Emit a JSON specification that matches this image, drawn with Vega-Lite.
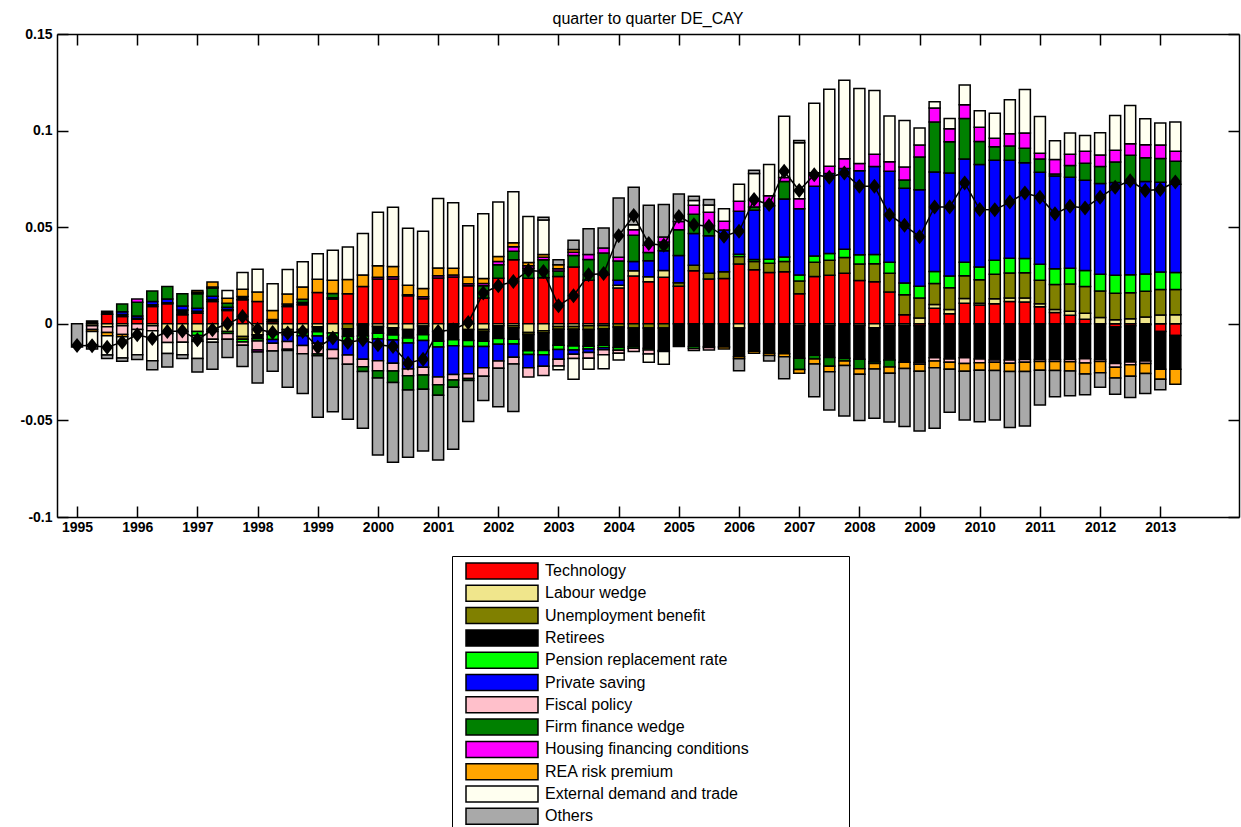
{
  "$schema": "https://vega.github.io/schema/vega-lite/v6.json",
  "autosize": {"type": "none"},
  "width": 1182,
  "height": 483,
  "padding": {"left": 57, "top": 34, "right": 2, "bottom": 310},
  "background": "white",
  "title": {"text": "quarter to quarter DE_CAY", "fontSize": 16, "fontWeight": "normal", "font": "Liberation Sans", "color": "black", "offset": 0},
  "config": {"view": {"stroke": null}, "font": "Liberation Sans"},
  "datasets": {
    "series": [
      {"k": "tech", "name": "Technology", "ord": 1},
      {"k": "labour", "name": "Labour wedge", "ord": 2},
      {"k": "unemp", "name": "Unemployment benefit", "ord": 3},
      {"k": "retirees", "name": "Retirees", "ord": 4},
      {"k": "pension", "name": "Pension replacement rate", "ord": 5},
      {"k": "saving", "name": "Private saving", "ord": 6},
      {"k": "fiscal", "name": "Fiscal policy", "ord": 7},
      {"k": "firm", "name": "Firm finance wedge", "ord": 8},
      {"k": "housing", "name": "Housing financing conditions", "ord": 9},
      {"k": "rea", "name": "REA risk premium", "ord": 10},
      {"k": "external", "name": "External demand and trade", "ord": 11},
      {"k": "others", "name": "Others", "ord": 12}
    ],
    "contrib": [
      {"q":0,"others":-0.012},
      {"q":1,"labour":-0.001,"retirees":0.0015,"fiscal":-0.002,"rea":-0.001,"external":-0.007,"others":-0.002},
      {"q":2,"tech":0.005,"labour":-0.0015,"retirees":0.0015,"fiscal":-0.003,"rea":-0.0017,"external":-0.010,"others":-0.0017},
      {"q":3,"tech":0.0038,"labour":-0.001,"retirees":0.001,"saving":0.0015,"fiscal":-0.0045,"firm":0.004,"rea":-0.0012,"external":-0.011,"others":-0.0017},
      {"q":4,"tech":0.0024,"retirees":0.0005,"saving":0.0012,"fiscal":-0.003,"firm":0.007,"housing":0.0017,"external":-0.013,"others":-0.0025},
      {"q":5,"tech":0.009,"labour":-0.001,"retirees":0.0008,"saving":0.0017,"fiscal":-0.0026,"firm":0.0055,"external":-0.0155,"others":-0.0047},
      {"q":6,"tech":0.0104,"labour":-0.005,"retirees":0.0005,"saving":0.002,"fiscal":-0.0047,"firm":0.0064,"external":-0.0057,"others":-0.007},
      {"q":7,"tech":0.0047,"labour":-0.004,"retirees":0.0025,"saving":0.002,"fiscal":-0.0055,"firm":0.0064,"external":-0.0065,"others":-0.002},
      {"q":8,"tech":0.0055,"labour":-0.004,"retirees":0.001,"pension":-0.002,"saving":0.0015,"fiscal":-0.003,"firm":0.0075,"housing":0.0008,"rea":0.001,"external":-0.009,"others":-0.007},
      {"q":9,"tech":0.0116,"labour":-0.003,"retirees":0.001,"pension":-0.001,"saving":0.0016,"fiscal":-0.004,"firm":0.0043,"housing":0.0005,"rea":0.0026,"external":-0.0015,"others":-0.014},
      {"q":10,"tech":0.0069,"labour":-0.004,"retirees":0.0005,"pension":-0.001,"saving":0.0012,"fiscal":-0.003,"firm":0.002,"rea":0.0026,"external":0.004,"others":-0.0095},
      {"q":11,"tech":0.0124,"labour":-0.0066,"unemp":-0.0014,"retirees":0.0017,"pension":-0.0014,"fiscal":-0.0017,"rea":0.0038,"external":0.0086,"others":-0.011},
      {"q":12,"tech":0.0116,"labour":-0.0057,"retirees":-0.002,"pension":-0.0012,"fiscal":-0.0047,"housing":-0.001,"rea":0.0048,"external":0.0118,"others":-0.016},
      {"q":13,"tech":0.001,"labour":-0.0045,"unemp":-0.001,"retirees":0.0012,"pension":-0.0026,"saving":-0.002,"fiscal":-0.004,"rea":0.0047,"external":0.0138,"others":-0.0105},
      {"q":14,"tech":0.009,"labour":-0.003,"unemp":-0.001,"retirees":0.0012,"pension":-0.0017,"saving":-0.0035,"fiscal":-0.004,"housing":-0.0006,"rea":0.0052,"external":0.0127,"others":-0.019},
      {"q":15,"tech":0.0098,"labour":-0.003,"unemp":-0.001,"retirees":0.0012,"pension":-0.0022,"saving":-0.005,"fiscal":-0.0043,"firm":0.0017,"rea":0.0064,"external":0.013,"others":-0.0206},
      {"q":16,"tech":0.0162,"labour":-0.0015,"retirees":-0.0026,"pension":-0.0022,"saving":-0.0038,"fiscal":-0.0055,"firm":-0.001,"rea":0.0069,"external":0.0132,"others":-0.0318},
      {"q":17,"tech":0.0128,"labour":-0.0048,"retirees":0.0007,"pension":-0.0025,"saving":-0.006,"fiscal":-0.0047,"firm":0.0022,"rea":0.0069,"external":0.0155,"others":-0.0275},
      {"q":18,"tech":0.0156,"unemp":-0.0026,"retirees":-0.004,"pension":-0.0022,"saving":-0.0074,"fiscal":-0.0047,"rea":0.0073,"external":0.0168,"others":-0.0285},
      {"q":19,"tech":0.0193,"labour":-0.0006,"retirees":-0.0057,"pension":-0.0017,"saving":-0.0104,"fiscal":-0.0038,"firm":-0.0025,"rea":0.006,"external":0.0214,"others":-0.0294},
      {"q":20,"tech":0.0232,"labour":-0.0014,"retirees":-0.0035,"pension":-0.003,"saving":-0.0112,"fiscal":-0.0052,"firm":-0.0038,"housing":0.0009,"rea":0.006,"external":0.0276,"others":-0.0398},
      {"q":21,"tech":0.0232,"labour":-0.002,"retirees":-0.0038,"pension":-0.0026,"saving":-0.012,"fiscal":-0.004,"firm":-0.006,"housing":0.0011,"rea":0.0054,"external":0.0306,"others":-0.0413},
      {"q":22,"tech":0.0145,"labour":-0.003,"retirees":-0.0043,"pension":-0.0026,"saving":-0.0135,"fiscal":-0.0035,"firm":-0.0074,"housing":0.0006,"rea":0.0048,"external":0.0295,"others":-0.0348},
      {"q":23,"tech":0.013,"labour":-0.0012,"retirees":-0.0045,"pension":-0.003,"saving":-0.0138,"fiscal":-0.004,"firm":-0.0074,"housing":0.001,"rea":0.0043,"external":0.0296,"others":-0.0319},
      {"q":24,"tech":0.0237,"labour":-0.004,"retirees":-0.005,"pension":-0.003,"saving":-0.0155,"fiscal":-0.004,"firm":-0.0055,"housing":0.0012,"rea":0.004,"external":0.0359,"others":-0.0335},
      {"q":25,"tech":0.0242,"retirees":-0.0083,"pension":-0.003,"saving":-0.015,"fiscal":-0.0028,"firm":-0.0038,"housing":0.001,"rea":0.0035,"external":0.0339,"others":-0.032},
      {"q":26,"tech":0.0197,"labour":-0.003,"retirees":-0.0057,"pension":-0.003,"saving":-0.0142,"fiscal":-0.0024,"firm":-0.001,"housing":0.001,"rea":0.0035,"external":0.0266,"others":-0.0213},
      {"q":27,"tech":0.0133,"labour":-0.003,"unemp":-0.001,"retirees":-0.005,"pension":-0.0028,"saving":-0.011,"fiscal":-0.0043,"firm":0.0064,"housing":0.0012,"rea":0.0026,"external":0.0334,"others":-0.0126},
      {"q":28,"tech":0.0236,"labour":-0.001,"retirees":-0.0066,"pension":-0.003,"saving":-0.0086,"fiscal":-0.0038,"firm":0.007,"housing":0.0016,"rea":0.0026,"external":0.0283,"others":-0.0199},
      {"q":29,"tech":0.0332,"labour":-0.001,"unemp":-0.001,"retirees":-0.006,"pension":-0.0024,"saving":-0.0069,"fiscal":-0.0035,"firm":0.0043,"housing":0.0024,"rea":0.002,"external":0.0264,"others":-0.0246},
      {"q":30,"tech":0.0236,"labour":-0.0045,"unemp":-0.001,"retirees":-0.0084,"pension":-0.002,"saving":-0.0069,"fiscal":-0.0048,"firm":0.0052,"housing":0.0012,"rea":0.0017,"external":0.0239},
      {"q":31,"tech":0.0239,"labour":-0.0036,"unemp":-0.001,"retirees":-0.0092,"pension":-0.0022,"saving":-0.006,"fiscal":-0.0048,"firm":0.0092,"housing":0.0014,"rea":0.0014,"external":0.0178,"others":0.0014},
      {"q":32,"tech":0.0245,"labour":-0.0014,"unemp":-0.0014,"retirees":-0.0083,"pension":-0.0022,"saving":-0.005,"fiscal":-0.0035,"firm":0.0028,"housing":0.0012,"rea":0.0021,"external":-0.002,"others":0.0026},
      {"q":33,"tech":0.0294,"labour":-0.0014,"unemp":-0.0014,"retirees":-0.0087,"pension":-0.002,"saving":-0.0022,"fiscal":-0.0022,"firm":0.0059,"housing":0.0017,"rea":0.0014,"external":-0.0108,"others":0.0048},
      {"q":34,"tech":0.0226,"labour":-0.001,"unemp":-0.002,"retirees":-0.0086,"pension":-0.0014,"saving":-0.0018,"fiscal":-0.003,"firm":0.0107,"housing":0.0026,"external":-0.0057,"others":0.0133},
      {"q":35,"tech":0.0254,"labour":-0.0009,"unemp":-0.0017,"retirees":-0.0086,"pension":-0.0012,"saving":-0.001,"fiscal":-0.0026,"firm":0.0112,"housing":0.0026,"external":-0.0073,"others":0.0104},
      {"q":36,"tech":0.0185,"labour":0.0014,"unemp":-0.0017,"retirees":-0.0106,"pension":-0.0014,"saving":0.0026,"fiscal":-0.0015,"firm":0.01,"housing":0.002,"external":-0.0035,"others":0.0306},
      {"q":37,"tech":0.0247,"labour":0.0028,"unemp":-0.0022,"retirees":-0.0095,"pension":-0.001,"saving":0.0048,"fiscal":-0.0016,"firm":0.0135,"housing":0.0029,"external":0.0026,"others":0.0194},
      {"q":38,"tech":0.0218,"labour":0.0026,"unemp":-0.0022,"retirees":-0.0104,"pension":-0.001,"saving":0.0082,"fiscal":-0.002,"firm":0.0043,"housing":0.0038,"external":-0.0043,"others":0.0206},
      {"q":39,"tech":0.0241,"labour":0.0035,"unemp":-0.0022,"retirees":-0.0116,"pension":-0.0005,"saving":0.0102,"firm":0.0045,"housing":0.0026,"external":-0.0066,"others":0.0168},
      {"q":40,"tech":0.0195,"unemp":0.0017,"retirees":-0.0118,"saving":0.0142,"firm":0.0133,"housing":0.0043,"others":0.0142},
      {"q":41,"tech":0.0275,"unemp":0.0028,"retirees":-0.0118,"pension":-0.001,"saving":0.0165,"fiscal":-0.001,"firm":0.0099,"housing":0.0047,"external":0.0024,"others":0.0022},
      {"q":42,"tech":0.0232,"unemp":0.003,"retirees":-0.0118,"pension":-0.0005,"saving":0.0194,"fiscal":-0.0012,"firm":0.0052,"housing":0.0069,"external":0.0038,"others":0.0028},
      {"q":43,"tech":0.0235,"unemp":0.0035,"retirees":-0.012,"saving":0.0215,"housing":0.0046,"rea":-0.0011,"external":0.0065},
      {"q":44,"tech":0.031,"labour":-0.0022,"unemp":0.0038,"retirees":-0.0149,"pension":0.0012,"saving":0.0222,"housing":0.0052,"rea":-0.001,"external":0.0088,"others":-0.0062},
      {"q":45,"tech":0.028,"unemp":0.0043,"retirees":-0.0142,"pension":0.001,"saving":0.0255,"firm":0.0017,"housing":0.0035,"rea":-0.001,"external":0.0138,"others":0.0017},
      {"q":46,"tech":0.0266,"unemp":0.0047,"retirees":-0.0152,"pension":0.0021,"saving":0.0277,"housing":0.0052,"rea":-0.0012,"external":0.0161,"others":-0.0028},
      {"q":47,"tech":0.027,"unemp":0.0052,"retirees":-0.0155,"pension":0.0024,"saving":0.03,"firm":0.009,"housing":0.0021,"rea":-0.0016,"external":0.0317,"others":-0.0114},
      {"q":48,"tech":0.0155,"labour":-0.0009,"unemp":0.0066,"retirees":-0.0169,"pension":0.0031,"saving":0.0343,"firm":-0.0059,"housing":0.0052,"rea":-0.0019,"external":0.029,"others":0.0012},
      {"q":49,"tech":0.0245,"unemp":0.0073,"retirees":-0.0163,"pension":0.0033,"saving":0.0361,"firm":-0.0019,"housing":0.007,"rea":-0.0026,"external":0.036,"others":-0.0169},
      {"q":50,"tech":0.0251,"labour":-0.0009,"unemp":0.0078,"retirees":-0.0166,"pension":0.0035,"saving":0.0414,"firm":-0.0045,"housing":0.0038,"rea":-0.0028,"external":0.0398,"others":-0.0198},
      {"q":51,"tech":0.0262,"unemp":0.0081,"retirees":-0.0178,"pension":0.0043,"saving":0.0418,"firm":-0.0014,"housing":0.005,"rea":-0.0024,"external":0.0406,"others":-0.0261},
      {"q":52,"tech":0.0224,"labour":-0.0009,"unemp":0.0086,"retirees":-0.0175,"pension":0.0047,"saving":0.0435,"firm":-0.0049,"housing":0.0038,"rea":-0.0028,"external":0.0388,"others":-0.024},
      {"q":53,"tech":0.0218,"labour":-0.0021,"unemp":0.0093,"retirees":-0.0175,"pension":0.0048,"saving":0.0455,"firm":-0.001,"housing":0.0064,"rea":-0.0028,"external":0.033,"others":-0.0255},
      {"q":54,"tech":0.0164,"labour":-0.0009,"unemp":0.0098,"retirees":-0.0178,"pension":0.0057,"saving":0.047,"firm":-0.0036,"housing":0.005,"rea":-0.0033,"external":0.0236,"others":-0.0252},
      {"q":55,"tech":0.0047,"labour":-0.0009,"unemp":0.0104,"retirees":-0.019,"pension":0.006,"saving":0.049,"firm":0.0043,"housing":0.0067,"rea":-0.0033,"external":0.0241,"others":-0.03},
      {"q":56,"tech":-0.001,"labour":0.003,"unemp":0.0104,"retirees":-0.019,"pension":0.006,"saving":0.05,"fiscal":-0.001,"firm":0.017,"housing":0.0061,"rea":-0.0035,"external":0.0089,"others":-0.031},
      {"q":57,"tech":0.008,"labour":0.002,"unemp":0.0109,"retirees":-0.0176,"pension":0.0062,"saving":0.0515,"fiscal":-0.0016,"firm":0.0258,"housing":0.0073,"rea":-0.0036,"external":0.0032,"others":-0.0313},
      {"q":58,"tech":0.0052,"labour":0.0022,"unemp":0.0112,"retirees":-0.0182,"pension":0.0062,"saving":0.0532,"fiscal":-0.0017,"firm":0.0162,"housing":0.0067,"rea":-0.0036,"external":0.0054,"others":-0.0223},
      {"q":59,"tech":0.0107,"labour":0.0024,"unemp":0.0118,"retirees":-0.0176,"pension":0.0069,"saving":0.0535,"fiscal":-0.0029,"firm":0.021,"housing":0.0071,"rea":-0.0041,"external":0.0102,"others":-0.0252},
      {"q":60,"tech":0.0097,"labour":0.001,"unemp":0.0121,"retirees":-0.0182,"pension":0.0066,"saving":0.053,"fiscal":-0.0019,"firm":0.012,"housing":0.0073,"rea":-0.004,"external":0.0086,"others":-0.0266},
      {"q":61,"tech":0.0104,"labour":0.0026,"unemp":0.0126,"retirees":-0.0187,"pension":0.0073,"saving":0.0517,"fiscal":-0.0012,"firm":0.0071,"housing":0.0043,"rea":-0.0043,"external":0.013,"others":-0.0256},
      {"q":62,"tech":0.0116,"labour":0.0017,"unemp":0.013,"retirees":-0.0187,"pension":0.0076,"saving":0.0508,"fiscal":-0.0017,"firm":0.0073,"housing":0.0064,"rea":-0.0043,"external":0.0176,"others":-0.029},
      {"q":63,"tech":0.0113,"labour":0.0021,"unemp":0.013,"retirees":-0.0185,"pension":0.0074,"saving":0.0495,"fiscal":-0.0014,"firm":0.0076,"housing":0.0079,"rea":-0.0048,"external":0.0225,"others":-0.0282},
      {"q":64,"tech":0.0088,"labour":0.0016,"unemp":0.0121,"retirees":-0.0185,"pension":0.0083,"saving":0.0477,"fiscal":-0.001,"firm":0.0068,"housing":0.003,"rea":-0.0045,"external":0.019,"others":-0.018},
      {"q":65,"tech":0.0058,"labour":0.0016,"unemp":0.013,"retirees":-0.0185,"pension":0.0081,"saving":0.048,"fiscal":-0.001,"firm":0.001,"housing":0.0075,"rea":-0.0047,"external":0.0098,"others":-0.0135},
      {"q":66,"tech":0.0044,"labour":0.0021,"unemp":0.0141,"retirees":-0.0185,"pension":0.0081,"saving":0.0472,"fiscal":-0.0012,"firm":0.006,"housing":0.0058,"rea":-0.0047,"external":0.011,"others":-0.0129},
      {"q":67,"tech":0.0024,"labour":0.0031,"unemp":0.0138,"retirees":-0.0181,"pension":0.0083,"saving":0.0467,"fiscal":-0.0022,"firm":0.0088,"housing":0.0062,"rea":-0.0057,"external":0.0082,"others":-0.0107},
      {"q":68,"labour":0.0032,"unemp":0.0138,"retirees":-0.0185,"pension":0.0086,"saving":0.047,"fiscal":-0.001,"firm":0.0088,"housing":0.006,"rea":-0.0058,"external":0.0115,"others":-0.0075},
      {"q":69,"tech":-0.0017,"labour":0.0021,"unemp":0.0137,"retirees":-0.0188,"pension":0.0093,"saving":0.048,"fiscal":-0.002,"firm":0.0107,"housing":0.006,"rea":-0.0055,"external":0.018,"others":-0.0085},
      {"q":70,"tech":-0.001,"labour":0.0026,"unemp":0.0135,"retirees":-0.0188,"pension":0.0093,"saving":0.0473,"fiscal":-0.0014,"firm":0.0145,"housing":0.006,"rea":-0.006,"external":0.0198,"others":-0.011},
      {"q":71,"tech":-0.0005,"labour":0.0035,"unemp":0.0133,"retirees":-0.0188,"pension":0.009,"saving":0.0478,"fiscal":-0.0012,"firm":0.0123,"housing":0.0068,"rea":-0.0052,"external":0.0134,"others":-0.0104},
      {"q":72,"tech":-0.004,"labour":0.0046,"unemp":0.0132,"retirees":-0.0195,"pension":0.009,"saving":0.0465,"firm":0.0122,"housing":0.0071,"rea":-0.0052,"external":0.0113,"others":-0.0055},
      {"q":73,"tech":-0.006,"labour":0.0047,"unemp":0.013,"retirees":-0.0175,"pension":0.0089,"saving":0.0456,"firm":0.0119,"housing":0.0052,"rea":-0.0078,"external":0.0152}
    ],
    "total": [
      {"q":0,"t":-0.0112},{"q":1,"t":-0.0114},{"q":2,"t":-0.0121},{"q":3,"t":-0.0095},{"q":4,"t":-0.0057},
      {"q":5,"t":-0.0076},{"q":6,"t":-0.004},{"q":7,"t":-0.0037},{"q":8,"t":-0.0083},{"q":9,"t":-0.0031},
      {"q":10,"t":0.0},{"q":11,"t":0.0038},{"q":12,"t":-0.0028},{"q":13,"t":-0.0045},{"q":14,"t":-0.0048},
      {"q":15,"t":-0.004},{"q":16,"t":-0.0121},{"q":17,"t":-0.0074},{"q":18,"t":-0.0097},{"q":19,"t":-0.0083},
      {"q":20,"t":-0.0109},{"q":21,"t":-0.0117},{"q":22,"t":-0.0204},{"q":23,"t":-0.0183},{"q":24,"t":-0.004},
      {"q":25,"t":-0.0031},{"q":26,"t":0.0007},{"q":27,"t":0.0159},{"q":28,"t":0.0197},{"q":29,"t":0.0219},
      {"q":30,"t":0.0276},{"q":31,"t":0.0271},{"q":32,"t":0.0093},{"q":33,"t":0.0145},{"q":34,"t":0.0254},
      {"q":35,"t":0.026},{"q":36,"t":0.0456},{"q":37,"t":0.056},{"q":38,"t":0.0415},{"q":39,"t":0.0406},
      {"q":40,"t":0.0556},{"q":41,"t":0.0513},{"q":42,"t":0.0505},{"q":43,"t":0.0453},{"q":44,"t":0.0479},
      {"q":45,"t":0.0643},{"q":46,"t":0.0617},{"q":47,"t":0.079},{"q":48,"t":0.069},{"q":49,"t":0.0772},
      {"q":50,"t":0.0759},{"q":51,"t":0.0781},{"q":52,"t":0.0712},{"q":53,"t":0.0712},{"q":54,"t":0.0565},
      {"q":55,"t":0.051},{"q":56,"t":0.045},{"q":57,"t":0.0605},{"q":58,"t":0.0605},{"q":59,"t":0.0729},
      {"q":60,"t":0.0591},{"q":61,"t":0.059},{"q":62,"t":0.063},{"q":63,"t":0.0677},{"q":64,"t":0.0655},
      {"q":65,"t":0.0569},{"q":66,"t":0.0608},{"q":67,"t":0.06},{"q":68,"t":0.0655},{"q":69,"t":0.0707},
      {"q":70,"t":0.0741},{"q":71,"t":0.069},{"q":72,"t":0.0695},{"q":73,"t":0.0734}
    ]
  },
  "layer": [
    {
      "data": {"name": "contrib"},
      "transform": [
        {"fold": ["tech","labour","unemp","retirees","pension","saving","fiscal","firm","housing","rea","external","others"], "as": ["k","v"]},
        {"filter": "isValid(datum.v) && datum.v != 0"},
        {"lookup": "k", "from": {"data": {"name": "series"}, "key": "k", "fields": ["name","ord"]}}
      ],
      "mark": {"type": "bar", "size": 11, "stroke": "black", "strokeWidth": 1.5},
      "encoding": {
        "x": {"field": "q", "type": "quantitative", "scale": {"domain": [-1, 76.9], "nice": false, "zero": false},
          "axis": {"orient": "bottom", "values": [0,4,8,12,16,20,24,28,32,36,40,44,48,52,56,60,64,68,72],
            "labelExpr": "'' + (1995 + datum.value / 4)", "title": null, "grid": false,
            "tickSize": -11, "tickWidth": 1.5, "tickColor": "black", "labelPadding": 14,
            "domainColor": "black", "domainWidth": 1.5, "labelFont": "Liberation Sans", "labelFontSize": 14,
            "labelFontWeight": "bold", "labelColor": "black", "labelOverlap": false, "labelFlush": false}},
        "y": {"field": "v", "type": "quantitative", "stack": "zero", "scale": {"domain": [-0.1, 0.15], "nice": false, "zero": false},
          "axis": {"orient": "left", "values": [-0.1,-0.05,0,0.05,0.1,0.15],
            "labelExpr": "datum.value == 0 ? '0' : (datum.value < 0 ? '-' : '') + format(abs(datum.value), '~g')",
            "title": null, "grid": false, "tickSize": -11, "tickWidth": 1.5, "tickColor": "black", "labelPadding": 16,
            "domainColor": "black", "domainWidth": 1.5, "labelFont": "Liberation Sans", "labelFontSize": 14,
            "labelFontWeight": "bold", "labelColor": "black", "labelOverlap": false, "labelFlush": false}},
        "color": {"field": "name", "type": "nominal",
          "scale": {"domain": ["Technology","Labour wedge","Unemployment benefit","Retirees","Pension replacement rate","Private saving","Fiscal policy","Firm finance wedge","Housing financing conditions","REA risk premium","External demand and trade","Others"],
                    "range": ["#ff0000","#f0e68c","#808000","#000000","#00ff00","#0000ff","#ffc0cb","#008000","#ff00ff","#ffa500","#fffff0","#a9a9a9"]},
          "legend": {"orient": "none", "legendX": 395, "legendY": 522, "title": null, "direction": "vertical",
            "symbolType": "M-4.5,-1H4.5V1H-4.5Z", "symbolSize": 256, "symbolStrokeColor": "black", "symbolStrokeWidth": 1.5,
            "symbolOpacity": 1, "symbolOffset": 35, "labelOffset": 34, "labelFont": "Liberation Sans", "labelFontSize": 16,
            "labelColor": "black", "labelLimit": 0, "rowPadding": 0.3, "padding": 6,
            "strokeColor": "black", "fillColor": "white",
            "labelExpr": "datum.label + '                     \u200b'"}},
        "order": {"field": "ord", "type": "quantitative", "sort": "ascending"}
      }
    },
    {
      "mark": {"type": "rule", "color": "black", "strokeWidth": 1.5},
      "encoding": {
        "x": {"datum": -1, "type": "quantitative", "axis": null},
        "x2": {"datum": 73.5},
        "y": {"datum": 0, "type": "quantitative", "axis": null}
      }
    },
    {
      "mark": {"type": "rule", "color": "#808080", "strokeWidth": 1.5, "strokeDash": [9, 6]},
      "encoding": {
        "x": {"datum": 73.5, "type": "quantitative", "axis": null},
        "x2": {"datum": 76.9},
        "y": {"datum": 0, "type": "quantitative", "axis": null}
      }
    },
    {
      "data": {"name": "total"},
      "mark": {"type": "line", "color": "black", "strokeWidth": 1.5},
      "encoding": {
        "x": {"field": "q", "type": "quantitative", "axis": null},
        "y": {"field": "t", "type": "quantitative", "axis": null}
      }
    },
    {
      "data": {"name": "total"},
      "mark": {"type": "point", "shape": "M0,-1L0.8,0L0,1L-0.8,0Z", "filled": true, "color": "black", "size": 225, "opacity": 1},
      "encoding": {
        "x": {"field": "q", "type": "quantitative",
          "axis": {"orient": "top", "values": [0,4,8,12,16,20,24,28,32,36,40,44,48,52,56,60,64,68,72], "labels": false, "title": null, "grid": false,
            "tickSize": -11, "tickWidth": 1.5, "tickColor": "black", "domainColor": "black", "domainWidth": 1.5}},
        "y": {"field": "t", "type": "quantitative",
          "axis": {"orient": "right", "values": [-0.1,-0.05,0,0.05,0.1,0.15], "labels": false, "title": null, "grid": false,
            "tickSize": -11, "tickWidth": 1.5, "tickColor": "black", "domainColor": "black", "domainWidth": 1.5}}
      }
    }
  ],
  "resolve": {"axis": {"x": "independent", "y": "independent"}}
}
